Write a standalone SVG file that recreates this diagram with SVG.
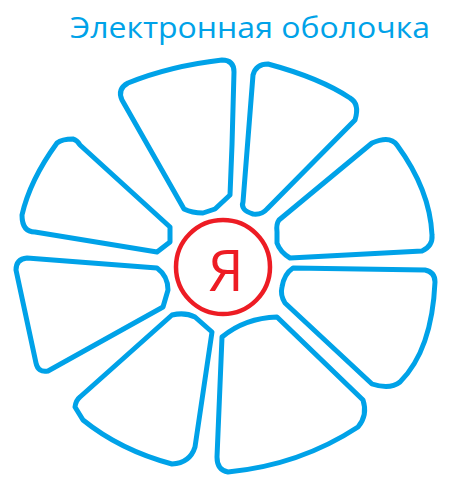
<svg xmlns="http://www.w3.org/2000/svg" width="460" height="497" viewBox="0 0 460 497">
<style>
.petal{fill:none;stroke:#00a2e8;stroke-width:5;stroke-linejoin:round;stroke-linecap:round}
.title{font-family:"Open Sans","Noto Sans",sans-serif;font-size:30px;fill:#00a2e8}
.core{fill:none;stroke:#ed1c24;stroke-width:4.5}
.coretext{font-family:"Open Sans","Noto Sans",sans-serif;font-size:56px;fill:#ed1c24}
</style>
<rect width="460" height="497" fill="#fff"/>
<text class="title" x="70" y="38" textLength="360" lengthAdjust="spacingAndGlyphs">Электронная оболочка</text>
<g id="shells">
<g id="petal-a"><path class="petal" d="M122,100 L184,209 Q192,213 203,213 L215,209 L230,195 L232,145 L234,72 Q234,60 222,60 Q170,66 128,83 Q117,89 122,100 Z"/></g>
<g id="petal-b"><path class="petal" d="M243,202 L253,75 Q256,64 268,64 Q320,78 350,98 Q360,104 355,120 L267,209 Q262,215 253,214 Q240,210 243,202 Z"/></g>
<g id="petal-c"><path class="petal" d="M372,143 L279,220 Q276,224 277,232 L277,243 Q280,252 290,258 L422,251 Q433,246 432,235 Q430,190 397,145 Q390,135 372,143 Z"/></g>
<g id="petal-d"><path class="petal" d="M293,268 L425,270 Q435,272 435,282 Q432,350 400,382 Q390,390 372,384 L285,303 Q280,295 282,287 Q284,274 293,268 Z"/></g>
<g id="petal-e"><path class="petal" d="M277,317 Q245,318 222,337 L217,457 Q217,470 228,472 Q300,465 358,427 Q368,415 363,400 Z"/></g>
<g id="petal-f"><path class="petal" d="M172,315 Q185,312 195,317 L212,332 L195,447 Q190,463 172,464 Q120,450 83,420 L75,407 Q76,400 80,397 Z"/></g>
<g id="petal-g"><path class="petal" d="M27,258 L157,268 Q168,276 168,290 L163,307 L48,371 Q38,373 36,363 L16,270 Q16,259 27,258 Z"/></g>
<g id="petal-h"><path class="petal" d="M73,139 Q62,139 57,143 Q30,180 22,215 Q22,232 35,232 L157,252 L170,242 L170,227 L80,145 Q77,140 73,139 Z"/></g>
</g>
<g id="nucleus">
<circle class="core" cx="223" cy="267" r="47"/>
<text class="coretext" x="226" y="291" text-anchor="middle">Я</text>
</g>
</svg>
